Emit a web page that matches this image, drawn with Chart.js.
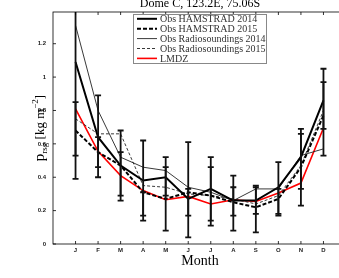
<!DOCTYPE html>
<html>
<head>
<meta charset="utf-8">
<script src="https://cdn.jsdelivr.net/npm/chart.js@4.4.1/dist/chart.umd.min.js"></script>
<style>
  html, body { margin: 0; padding: 0; background: #fff; overflow: hidden; }
  #wrap { width: 339px; height: 278px; overflow: hidden; position: relative; }
  #c { position: absolute; left: 0; top: 0; }
</style>
</head>
<body>
<div id="wrap"><canvas id="c" width="360" height="278"></canvas></div>
<script>
const months = ['J', 'F', 'M', 'A', 'M', 'J', 'J', 'A', 'S', 'O', 'N', 'D'];
const hamstrad2014 = [1.09, 0.64, 0.47, 0.38, 0.40, 0.27, 0.33, 0.26, 0.26, 0.34, 0.52, 0.86];
const hamstrad2015 = [0.68, 0.55, 0.47, 0.31, 0.27, 0.31, 0.29, 0.25, 0.22, 0.27, 0.46, 0.77];
const radio2014 = [1.31, 0.80, 0.52, 0.46, 0.44, 0.34, 0.31, 0.26, 0.33, 0.33, 0.53, 0.57];
const radio2015 = [0.75, 0.66, 0.66, 0.35, 0.34, 0.30, 0.29, 0.27, 0.24, 0.29, 0.47, 0.80];
const lmdz = [0.81, 0.555, 0.41, 0.32, 0.265, 0.285, 0.24, 0.265, 0.255, 0.305, 0.365, 0.695];

// error bars (low / high), outer and inner
const outerLow = [0.39, 0.40, 0.26, 0.14, 0.08, 0.04, 0.11, 0.08, 0.07, 0.17, 0.23, 0.53];
const outerHigh = [1.80, 0.89, 0.68, 0.62, 0.52, 0.61, 0.52, 0.41, 0.35, 0.49, 0.69, 1.05];
const innerLow = [0.53, 0.46, 0.29, 0.17, 0.29, 0.17, 0.14, 0.17, 0.18, 0.18, 0.33, 0.69];
const innerHigh = [0.85, 0.64, 0.55, 0.31, 0.46, 0.33, 0.46, 0.34, 0.34, 0.33, 0.66, 0.97];

const yTicks = [0, 0.2, 0.4, 0.6, 0.8, 1, 1.2];

const pts = arr => arr.map((v, i) => ({ x: i + 1, y: v }));

const series = [
  { label: 'Obs HAMSTRAD 2014', data: hamstrad2014, color: '#000', width: 2, dash: [] },
  { label: 'Obs HAMSTRAD 2015', data: hamstrad2015, color: '#000', width: 2, dash: [4, 2] },
  { label: 'Obs Radiosoundings 2014', data: radio2014, color: '#222', width: 0.9, dash: [] },
  { label: 'Obs Radiosoundings 2015', data: radio2015, color: '#222', width: 0.9, dash: [3, 2] },
  { label: 'LMDZ', data: lmdz, color: '#ff0000', width: 1.6, dash: [] }
];

const serif = '"Liberation Serif", "DejaVu Serif", serif';
const sans = '"Liberation Sans", Arial, sans-serif';

const errorBars = {
  id: 'errorBars',
  afterDatasetsDraw(chart) {
    const { ctx, chartArea: a, scales: { x, y } } = chart;
    ctx.save();
    ctx.beginPath();
    ctx.rect(a.left, a.top, a.right - a.left, a.bottom - a.top);
    ctx.clip();
    ctx.strokeStyle = '#111';
    ctx.lineWidth = 1.8;
    const bar = (i, lo, hi) => {
      const px = x.getPixelForValue(i + 1);
      const y1 = y.getPixelForValue(lo), y2 = y.getPixelForValue(hi);
      ctx.beginPath();
      ctx.moveTo(px, y1); ctx.lineTo(px, y2);
      ctx.moveTo(px - 3, y1); ctx.lineTo(px + 3, y1);
      ctx.moveTo(px - 3, y2); ctx.lineTo(px + 3, y2);
      ctx.stroke();
    };
    months.forEach((m, i) => {
      bar(i, outerLow[i], outerHigh[i]);
      bar(i, innerLow[i], innerHigh[i]);
    });
    ctx.restore();
  }
};

const frame = {
  id: 'frame',
  afterDraw(chart) {
    const { ctx, chartArea: a, scales: { x, y } } = chart;
    ctx.save();
    ctx.strokeStyle = '#000';
    ctx.lineWidth = 0.8;
    ctx.strokeRect(a.left, a.top, a.right - a.left, a.bottom - a.top);
    ctx.beginPath();
    months.forEach((m, i) => {
      const px = x.getPixelForValue(i + 1);
      ctx.moveTo(px, a.bottom); ctx.lineTo(px, a.bottom - 3);
      ctx.moveTo(px, a.top); ctx.lineTo(px, a.top + 3);
    });
    yTicks.forEach(v => {
      const py = y.getPixelForValue(v);
      ctx.moveTo(a.left, py); ctx.lineTo(a.left + 3, py);
      ctx.moveTo(a.right, py); ctx.lineTo(a.right - 3, py);
    });
    ctx.stroke();

    // title
    ctx.fillStyle = '#000';
    ctx.font = '12px ' + serif;
    ctx.textAlign = 'center';
    ctx.textBaseline = 'alphabetic';
    ctx.fillText('Dome C, 123.2E, 75.06S', 200, 7);

    // x title
    ctx.font = '14px ' + serif;
    ctx.fillText('Month', 200, 265);

    // y title, rotated
    ctx.save();
    ctx.translate(44, 128);
    ctx.rotate(-Math.PI / 2);
    const parts = [
      ['p', 15, 0], ['rsg', 9, 3], [' [kg m', 13, 0], ['\u22122', 9, -6], [']', 13, 0]
    ];
    let total = 0;
    parts.forEach(p => { ctx.font = p[1] + 'px ' + serif; total += ctx.measureText(p[0]).width; });
    let cx = -total / 2;
    ctx.textAlign = 'left';
    parts.forEach(p => {
      ctx.font = p[1] + 'px ' + serif;
      ctx.fillText(p[0], cx, p[2]);
      cx += ctx.measureText(p[0]).width;
    });
    ctx.restore();

    // legend
    const lx = 133, ly = 14, lw = 133, lh = 49;
    ctx.fillStyle = '#fff';
    ctx.fillRect(lx, ly, lw, lh);
    ctx.strokeStyle = '#888';
    ctx.lineWidth = 1;
    ctx.strokeRect(lx + 0.5, ly + 0.5, lw, lh);
    ctx.font = '10px ' + serif;
    ctx.textAlign = 'left';
    ctx.textBaseline = 'middle';
    series.forEach((s, i) => {
      const ry = 18.8 + i * 9.9;
      ctx.strokeStyle = s.color;
      ctx.lineWidth = s.width;
      ctx.setLineDash(s.dash);
      ctx.beginPath();
      ctx.moveTo(137, ry); ctx.lineTo(157, ry);
      ctx.stroke();
      ctx.setLineDash([]);
      ctx.fillStyle = '#333';
      ctx.fillText(s.label, 160, ry + 0.5);
    });
    ctx.restore();
  }
};

new Chart(document.getElementById('c'), {
  type: 'line',
  data: {
    datasets: series.map(s => ({
      label: s.label,
      data: pts(s.data),
      borderColor: s.color,
      borderWidth: s.width,
      borderDash: s.dash,
      pointRadius: 0,
      fill: false,
      tension: 0
    }))
  },
  options: {
    responsive: false,
    animation: false,
    layout: { padding: { top: 12, right: 14, left: 0, bottom: 0 } },
    plugins: { legend: { display: false }, tooltip: { enabled: false } },
    scales: {
      x: {
        type: 'linear',
        min: 0,
        max: 13,
        afterFit: s => { s.height = 34; },
        afterBuildTicks: s => { s.ticks = months.map((m, i) => ({ value: i + 1 })); },
        ticks: {
          callback: v => months[v - 1],
          font: { family: sans, size: 6, weight: 'bold' },
          color: '#222',
          padding: 3,
          maxRotation: 0,
          autoSkip: false
        },
        grid: { display: false, drawTicks: false, tickLength: 0 },
        border: { display: false }
      },
      y: {
        min: 0,
        max: 1.39,
        afterFit: s => { s.width = 53; },
        afterBuildTicks: s => { s.ticks = yTicks.map(v => ({ value: v })); },
        ticks: {
          callback: v => String(Math.round(v * 10) / 10),
          font: { family: sans, size: 6, weight: 'bold' },
          color: '#222',
          padding: 7
        },
        grid: { display: false, drawTicks: false, tickLength: 0 },
        border: { display: false }
      }
    }
  },
  plugins: [errorBars, frame]
});
</script>
</body>
</html>
